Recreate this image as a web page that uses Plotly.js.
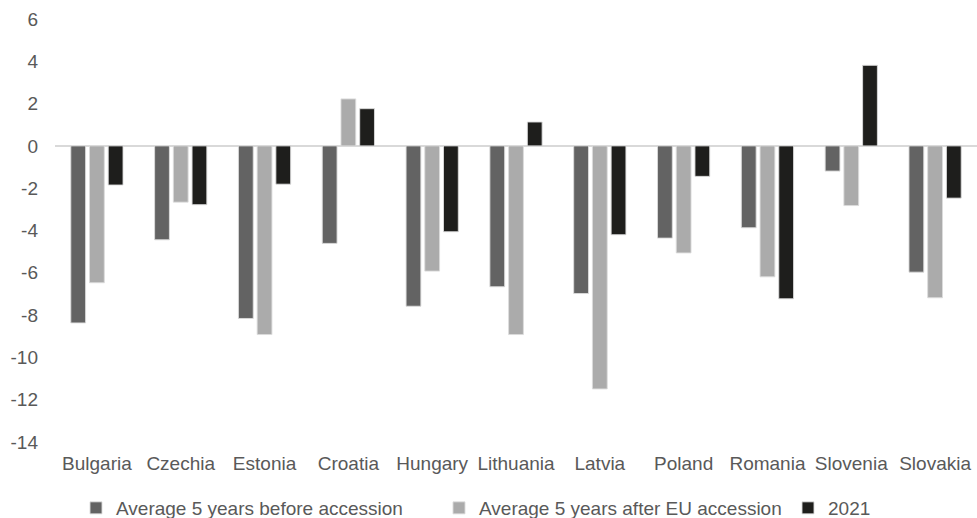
<!DOCTYPE html>
<html>
<head>
<meta charset="utf-8">
<script src="https://cdn.plot.ly/plotly-3.0.1.min.js"></script>
<style>html,body{margin:0;padding:0;background:#fff;}#chart{width:977px;height:518px;}</style>
</head>
<body>
<div id="chart"></div>
<script>
const countries = ["Bulgaria","Czechia","Estonia","Croatia","Hungary","Lithuania","Latvia","Poland","Romania","Slovenia","Slovakia"];
const before = [-8.37,-4.44,-8.16,-4.61,-7.58,-6.66,-6.98,-4.36,-3.87,-1.19,-5.97];
const after = [-6.47,-2.66,-8.92,2.22,-5.92,-8.92,-11.49,-5.06,-6.19,-2.82,-7.18];
const y2021 = [-1.85,-2.78,-1.81,1.76,-4.06,1.13,-4.20,-1.44,-7.23,3.81,-2.47];
const seriesNames = ["Average 5 years before accession","Average 5 years after EU accession","2021"];
const yTicks = [6,4,2,0,-2,-4,-6,-8,-10,-12,-14];

const colors = ["#636363","#ababab","#1e1e1c"];
const legendIds = ["legend","legend2","legend3"];
const vals = [before, after, y2021];
const traces = vals.map((v,i)=>({
  type:'bar', x:countries, y:v, name:seriesNames[i], legend:legendIds[i],
  marker:{color:colors[i], line:{color:'rgba(220,220,220,0.9)', width:1}},
  hoverinfo:'x+y'
}));

const fontFam = '"Liberation Sans", Arial, sans-serif';
function leg(xpx){
  return {orientation:'h', xref:'container', yref:'container', x:xpx/977, xanchor:'left',
          y:10/518, yanchor:'middle', font:{size:19,color:'#595959',family:fontFam},
          itemwidth:30, bgcolor:'rgba(0,0,0,0)', borderwidth:0};
}

const layout = {
  width:977, height:518,
  margin:{l:55, r:0, t:19, b:76, pad:0},
  paper_bgcolor:'#fff', plot_bgcolor:'#fff',
  barmode:'group', bargap:0.33, bargroupgap:0.21,
  font:{family:fontFam, size:19, color:'#595959'},
  xaxis:{type:'category', showgrid:false, showline:false, zeroline:false, ticks:'', ticklabelstandoff:8,
         tickfont:{size:19,color:'#595959'}, automargin:false},
  yaxis:{range:[-14,6], tickvals:yTicks, ticktext:yTicks.map(String), showgrid:false, showline:false,
         zeroline:true, zerolinecolor:'#d9d9d9', zerolinewidth:1.5, ticks:'', ticklabelstandoff:16,
         tickfont:{size:19,color:'#595959'}, automargin:false},
  showlegend:true,
  legend:leg(76), legend2:leg(439), legend3:leg(788)
};
Plotly.newPlot('chart', traces, layout, {displayModeBar:false, staticPlot:true});
</script>
</body>
</html>
